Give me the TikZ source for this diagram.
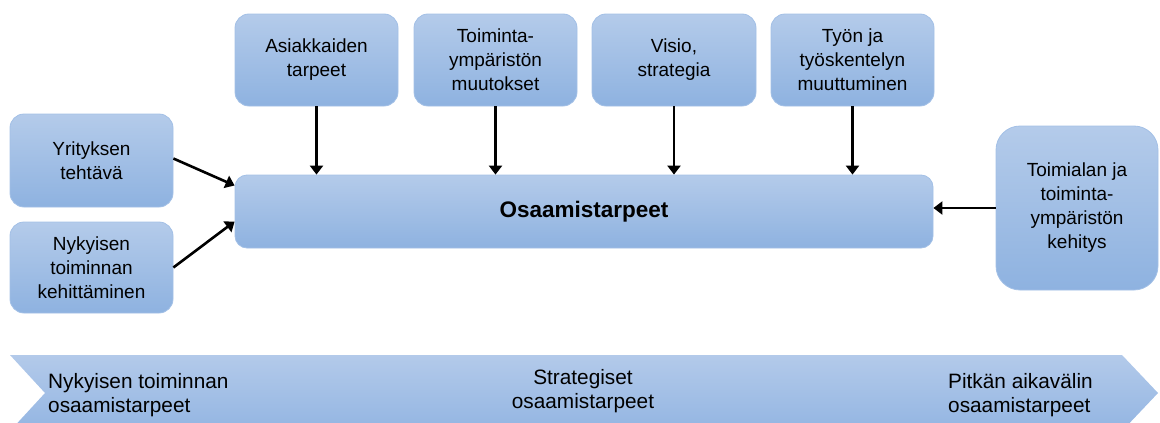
\documentclass[tikz,border=0pt]{standalone}
\usepackage{fontspec}
\setmainfont{Liberation Sans}
\usetikzlibrary{arrows.meta}
\definecolor{boxtop}{HTML}{B4CBEA}
\definecolor{boxbot}{HTML}{8EB2E0}
\definecolor{boxline}{HTML}{A3C0E6}
\definecolor{chtop}{HTML}{B3CAEA}
\definecolor{chbot}{HTML}{93B5E2}
\tikzset{
  bluebox/.style={rectangle, rounded corners=14pt, top color=boxtop, bottom color=boxbot,
    draw=boxline, line width=0.8pt, align=center, inner sep=2pt,
    font=\fontsize{19}{24}\selectfont},
  conn/.style={-{Triangle[width=13pt,length=9pt]}, line width=2.6pt, black},
  chtext/.style={align=left, inner sep=0pt, font=\fontsize{20.8}{24.5}\selectfont}
}
\begin{document}
\begin{tikzpicture}[x=1pt,y=-1pt]
\useasboundingbox (0,0) rectangle (1160,423);
\begin{scope}
\clip (0,0) rectangle (1160,423);
\shade[top color=chtop, bottom color=chbot] (10,355) -- (1122,355) -- (1158,393) -- (1122,431) -- (10,431) -- (45,393) -- cycle;
\end{scope}

\node[bluebox, minimum width=163pt, minimum height=93pt] (yt) at (91.5,160.5) {Yrityksen\\tehtävä};
\node[bluebox, minimum width=163pt, minimum height=91pt] (nt) at (91.5,267.5) {Nykyisen\\toiminnan\\kehittäminen};
\node[bluebox, rounded corners=12pt, minimum width=698pt, minimum height=73pt,
  font=\fontsize{22.5}{26}\selectfont\bfseries] (main) at (584,211.5) {Osaamistarpeet};
\node[bluebox, minimum width=163pt, minimum height=92pt] (asi) at (316.5,60) {Asiakkaiden\\tarpeet};
\node[bluebox, minimum width=163pt, minimum height=92pt] (toi) at (495.5,60) {Toiminta-\\ympäristön\\muutokset};
\node[bluebox, minimum width=164pt, minimum height=92pt] (vis) at (674,60) {Visio,\\strategia};
\node[bluebox, minimum width=163pt, minimum height=92pt] (tyo) at (852.5,60) {Työn ja\\työskentelyn\\muuttuminen};
\node[bluebox, rounded corners=24pt, minimum width=162pt, minimum height=164pt] (tma) at (1077,208) {Toimialan ja\\toiminta-\\ympäristön\\kehitys};

\draw[conn] (asi.south) -- (asi.south |- main.north);
\draw[conn] (toi.south) -- (toi.south |- main.north);
\draw[conn] (vis.south) -- (vis.south |- main.north);
\draw[conn] (tyo.south) -- (tyo.south |- main.north);
\draw[conn] ([yshift=2pt]yt.east) -- ([yshift=26pt]main.west);
\draw[conn] (nt.east) -- ([yshift=-10pt]main.west);
\draw[conn] (tma.west) -- (tma.west -| main.east);

\node[chtext, anchor=west] (c1) at (48,395) {Nykyisen toiminnan\\osaamistarpeet};
\node[chtext, align=center] (c2) at (583,391) {Strategiset\\osaamistarpeet};
\node[chtext, anchor=west] (c3) at (948,395) {Pitkän aikavälin\\osaamistarpeet};
\end{tikzpicture}
\end{document}
